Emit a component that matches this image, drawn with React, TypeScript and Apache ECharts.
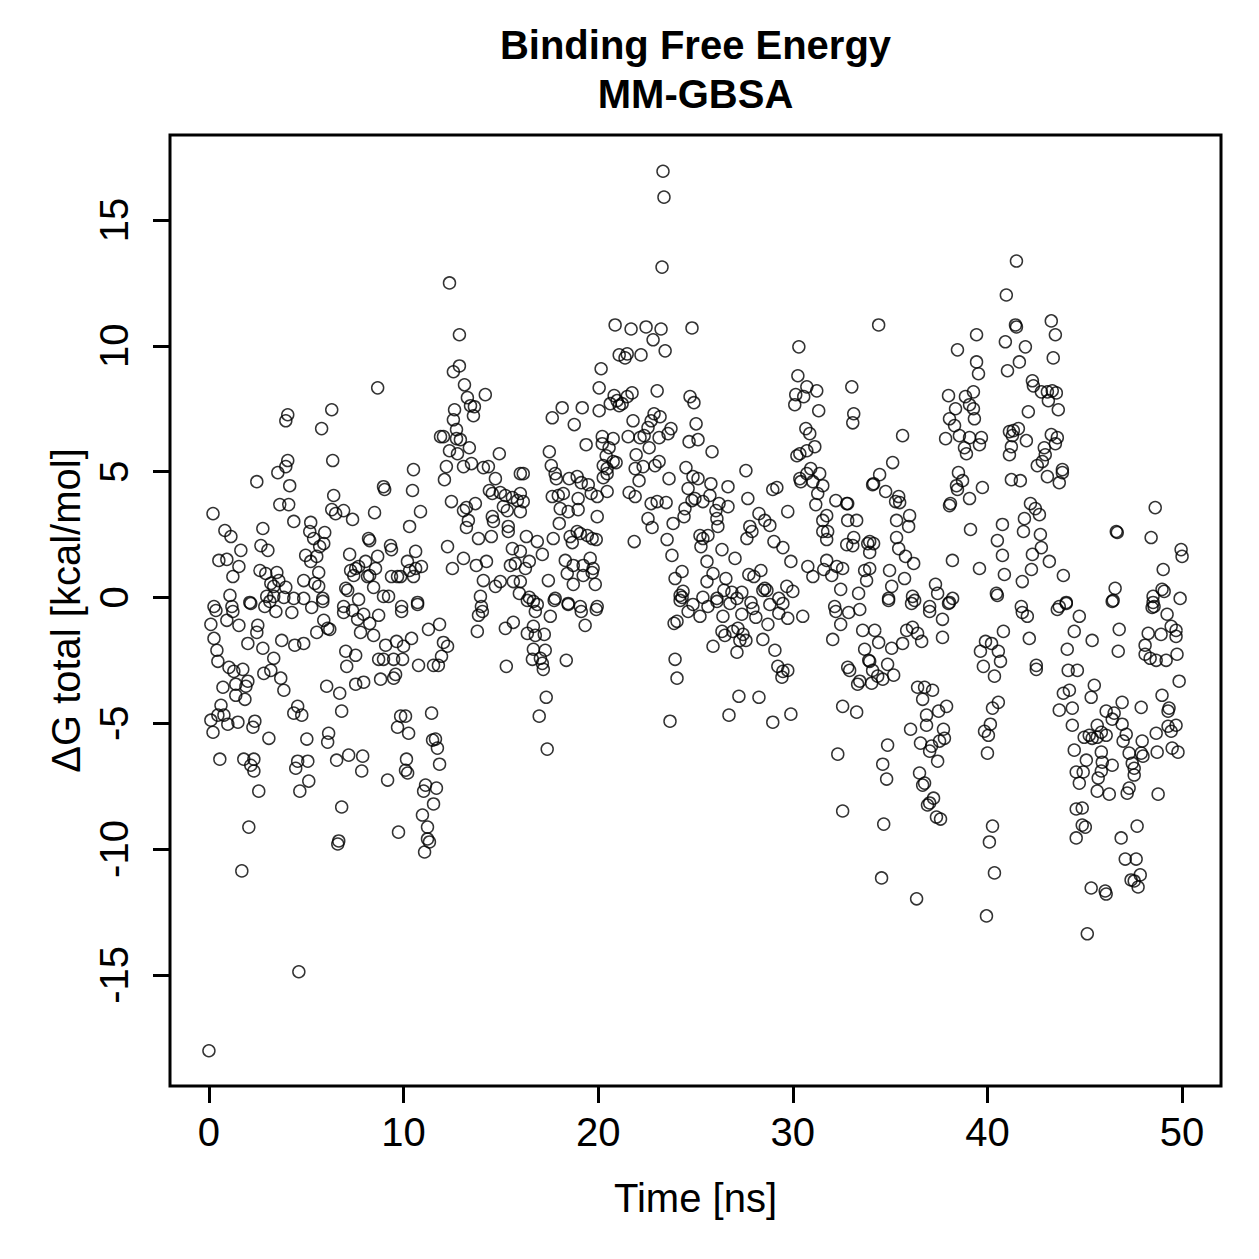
import React, { useEffect, useRef } from "react";
import * as echarts from "echarts";

const titleLines = ["Binding Free Energy", "MM-GBSA"];
const xAxisTitle = "Time [ns]";
const yAxisTitle = "ΔG total [kcal/mol]";
const xTicks = [0, 10, 20, 30, 40, 50];
const yTicks = [-15, -10, -5, 0, 5, 10, 15];

// [time (ns), ΔG total (kcal/mol)], grouped by decade of time
const seg00 = [
  [0.0, -18.02], [0.21, 3.33], [0.26, -0.36], [0.51, 1.47], [0.92, 1.51], [0.82, 2.66], [1.13, 2.42], [1.54, 1.23], [1.23, 0.83], [1.08, 0.08], [1.64, 1.87], [2.46, 4.6], [2.77, 2.74], [2.67, 2.06], [3.03, 1.87], [2.62, 1.07], [2.92, 0.95], [3.49, 0.99], [3.18, 0.56], [3.33, 0.44], [3.59, 0.67], [3.95, 0.4], [2.97, 0.04], [3.33, 0.04], [3.85, 0.0], [4.36, -0.04], [4.87, 0.67], [4.87, -0.04], [2.1, -0.2], [1.18, -0.36],
  [4.05, 7.26], [3.95, 7.02], [4.05, 5.44], [3.95, 5.2], [3.54, 4.96], [4.15, 4.44], [3.64, 3.69], [4.1, 3.69], [4.36, 3.02], [5.23, 2.98], [5.18, 2.62], [5.95, 2.58], [5.38, 2.34], [5.9, 2.14], [5.69, 2.02], [4.97, 1.67], [5.23, 1.43], [5.54, 1.63], [5.64, 0.99], [5.44, 0.56], [5.64, 0.44], [5.85, -0.04],
  [6.31, 7.46], [5.79, 6.71], [6.36, 5.44], [6.41, 4.05], [6.31, 3.49], [6.51, 3.33], [6.92, 3.45], [7.38, 3.1], [7.23, 1.71], [7.28, 1.07], [7.54, 1.15], [7.69, 1.23], [8.05, 1.43], [7.44, 0.87], [8.15, 0.83], [8.26, 0.87], [8.56, 1.15], [8.67, 1.63], [8.46, 0.4], [7.03, 0.36], [7.13, 0.28], [7.69, -0.08], [6.92, -0.36],
  [8.67, 8.33], [8.97, 4.4], [9.03, 4.29], [8.51, 3.37], [8.2, 2.34], [8.26, 2.26], [9.33, 2.06], [9.38, 1.9], [8.97, 0.04], [9.23, 0.04], [9.38, 0.83], [9.69, 0.83], [9.85, 0.83], [9.9, -0.36],
  [0.36, -0.52], [1.23, -0.56], [0.1, -1.07], [0.92, -0.91], [1.54, -1.11], [2.51, -1.11], [2.46, -1.39], [2.0, -1.83], [0.26, -1.63], [0.41, -2.1], [0.46, -2.54], [1.03, -2.78], [1.28, -2.94], [1.74, -2.86], [2.77, -2.02], [3.33, -2.42], [3.18, -2.9], [2.82, -3.02], [3.69, -3.21], [3.85, -3.69], [0.72, -3.57], [1.38, -3.45], [2.0, -3.33], [1.9, -3.53], [1.38, -3.89], [1.85, -4.05], [0.62, -4.29], [0.46, -4.68], [0.1, -4.88], [0.77, -4.68], [0.97, -5.04], [0.21, -5.36], [1.49, -4.96], [2.36, -4.92], [2.26, -5.16], [3.08, -5.6],
  [4.56, -4.33], [4.36, -4.6], [4.77, -4.68], [5.03, -5.63], [6.15, -5.4], [6.1, -5.75], [0.56, -6.43], [1.79, -6.43], [2.31, -6.43], [2.15, -6.67], [2.31, -6.9], [2.56, -7.7], [2.05, -9.13], [1.69, -10.87], [4.62, -14.88], [4.56, -6.51], [5.08, -6.51], [4.46, -6.79], [5.13, -7.3], [4.67, -7.7], [6.82, -8.33], [6.67, -9.68], [6.62, -9.8], [6.56, -6.47], [7.18, -6.27], [7.9, -6.31], [7.85, -6.9],
  [6.82, -4.52], [6.72, -3.81], [6.05, -3.53], [7.54, -3.45], [7.95, -3.37], [8.82, -3.25], [9.49, -3.21], [9.59, -3.06], [7.03, -2.14], [7.54, -2.3], [7.08, -2.74], [9.08, -1.9], [9.64, -1.75], [9.95, -2.46], [9.49, -2.46], [8.97, -2.46], [8.72, -2.46], [9.85, -4.72], [9.69, -5.16], [9.18, -7.26], [9.74, -9.33],
  [6.1, -1.23], [6.21, -1.27], [5.54, -1.39], [5.9, -0.91], [6.92, -0.6], [7.38, -0.52], [7.64, -0.87], [7.95, -0.67], [8.26, -1.03], [8.46, -1.51], [7.79, -1.39], [8.72, -0.71], [9.9, -0.56], [3.74, -1.71], [4.41, -1.9], [4.87, -1.83], [4.26, -0.6], [3.44, -0.56], [2.87, -0.36], [5.28, -0.4], [5.85, -0.16], [2.15, -0.24], [3.13, -0.16],
];

const seg10 = [
  [12.36, 12.5], [12.87, 10.44], [12.87, 9.2], [12.56, 8.97], [13.13, 8.45], [13.28, 7.94], [14.2, 8.06], [13.44, 7.62], [13.64, 7.58], [13.59, 7.22], [12.62, 7.46], [12.56, 7.06], [12.72, 6.67], [12.05, 6.39], [11.9, 6.39], [12.72, 6.31], [12.92, 6.27], [13.38, 5.95], [12.36, 5.83], [12.77, 5.71], [14.92, 5.71], [13.08, 5.2], [13.49, 5.32], [12.2, 5.2], [12.1, 4.68], [14.1, 5.16], [14.36, 5.2], [14.72, 4.72], [16.0, 4.92],
  [12.46, 3.81], [13.08, 3.45], [13.23, 3.57], [13.69, 3.73], [13.33, 3.06], [13.23, 2.78], [14.41, 4.25], [14.56, 4.13], [14.97, 4.17], [15.23, 4.05], [15.59, 3.97], [15.85, 3.85], [15.13, 3.61], [15.33, 3.45], [14.56, 3.21], [14.62, 3.02], [15.38, 2.82], [15.38, 2.62], [13.85, 2.34], [14.51, 2.42], [15.59, 1.94], [12.26, 2.02], [13.08, 1.55], [12.51, 1.15], [13.74, 1.27], [14.26, 1.43], [15.49, 1.27], [15.74, 1.35], [14.1, 0.67], [14.72, 0.44], [14.97, 0.63], [15.64, 0.63], [13.95, 0.04], [14.0, -0.36], [15.95, 0.16],
  [10.51, 5.08], [10.46, 4.25], [10.87, 3.41], [10.31, 2.82], [10.62, 1.83], [10.2, 1.43], [10.62, 1.15], [10.92, 1.23], [10.51, 0.83], [10.31, 1.07], [10.72, -0.2],
  [10.0, -1.94], [10.41, -1.63], [10.77, -2.7], [11.54, -2.7], [11.79, -2.7], [11.95, -2.34], [12.05, -1.79], [12.26, -1.94], [11.28, -1.27], [11.85, -1.07], [10.1, -4.72], [10.26, -5.4], [11.44, -4.6], [11.49, -5.67], [11.64, -5.63], [11.74, -5.99], [11.85, -6.63], [10.15, -6.43], [10.1, -6.87], [10.21, -6.98], [11.13, -7.46], [11.03, -7.7], [11.69, -7.58], [11.54, -8.21], [10.97, -8.65], [11.23, -9.13], [11.23, -9.6], [11.33, -9.72], [11.08, -10.12],
  [13.79, -1.35], [14.05, -0.56], [13.85, -0.71], [15.23, -1.23], [15.64, -0.99], [15.28, -2.74], [10.72, -0.28],
  [18.15, 7.54], [19.18, 7.54], [17.64, 7.14], [18.77, 6.87], [17.49, 5.79], [17.59, 5.24], [16.15, 4.92], [17.79, 4.92], [17.85, 4.72], [18.51, 4.72], [18.92, 4.8], [19.13, 4.56], [19.49, 4.48], [19.64, 4.13], [19.95, 4.01], [16.0, 4.13], [16.15, 3.81], [16.0, 3.41], [17.64, 4.01], [17.95, 4.05], [18.21, 4.13], [18.97, 3.93], [18.05, 3.53], [18.46, 3.41], [18.97, 3.49], [19.95, 3.21], [18.0, 2.94], [19.38, 6.07],
  [16.31, 2.42], [16.87, 2.22], [17.69, 2.34], [18.56, 2.42], [18.92, 2.62], [19.08, 2.54], [19.44, 2.46], [19.69, 2.34], [19.9, 2.3], [18.67, 2.18], [16.0, 1.83], [17.13, 1.71], [16.46, 1.43], [16.26, 1.15], [18.31, 1.47], [18.72, 1.27], [19.23, 1.27], [19.59, 1.55], [19.74, 1.15], [18.41, 0.95], [19.23, 0.87], [19.69, 0.99], [19.85, 0.52], [18.72, 0.52], [17.44, 0.67], [16.0, 0.63], [17.79, -0.04], [16.46, 0.0], [16.67, -0.16], [18.46, -0.24], [19.08, -0.36], [19.95, -0.36],
  [16.36, -0.12], [16.87, -0.28], [16.77, -0.56], [17.54, -0.75], [17.74, -0.12], [18.46, -0.28], [19.13, -0.56], [19.9, -0.48], [19.33, -1.11], [16.67, -1.15], [16.36, -1.43], [16.77, -1.51], [17.23, -1.47], [16.67, -2.06], [17.28, -2.1], [16.62, -2.46], [17.03, -2.42], [17.13, -2.62], [17.18, -2.86], [18.36, -2.5], [17.33, -3.97], [16.97, -4.72], [17.38, -6.03],
];

const seg20 = [
  [20.87, 10.83], [21.69, 10.67], [22.46, 10.75], [23.23, 10.67], [24.82, 10.71], [22.82, 10.24], [23.44, 9.8], [21.08, 9.64], [21.49, 9.68], [21.38, 9.52], [22.2, 9.64], [20.15, 9.09], [23.33, 16.94], [23.38, 15.91], [23.28, 13.13],
  [20.05, 8.33], [20.82, 8.02], [21.74, 8.13], [20.97, 7.82], [21.08, 7.62], [21.23, 7.7], [20.62, 7.7], [21.49, 7.98], [23.03, 8.21], [24.72, 7.98], [24.92, 7.74], [20.05, 7.42], [21.79, 7.02], [22.87, 7.3], [23.18, 7.18], [22.72, 7.02], [22.56, 6.75], [23.74, 6.71], [23.59, 6.51], [25.03, 6.9], [22.36, 6.43], [22.15, 6.35], [21.54, 6.39], [20.21, 6.39], [20.77, 6.31], [20.21, 6.11], [20.56, 5.95], [22.62, 5.95], [23.13, 6.35], [24.67, 6.19], [25.13, 6.27], [25.85, 5.79],
  [20.41, 5.63], [21.95, 5.67], [20.26, 5.24], [20.92, 5.36], [20.46, 5.12], [20.77, 5.4], [20.26, 4.76], [20.46, 4.92], [21.9, 5.12], [22.31, 5.2], [22.1, 4.64], [22.92, 5.24], [23.13, 5.4], [23.64, 4.72], [24.51, 5.16], [24.87, 4.8], [25.13, 4.72], [25.79, 4.52], [26.67, 4.4], [27.59, 5.04], [24.62, 4.33], [24.97, 3.93], [25.38, 3.81], [25.74, 4.05], [27.69, 3.93], [28.97, 4.29], [29.18, 4.37], [29.74, 3.41], [20.46, 4.21], [21.59, 4.17], [21.9, 4.01],
  [21.85, 2.22], [22.56, 3.13], [22.77, 2.78], [22.72, 3.73], [23.03, 3.81], [23.49, 3.77], [23.85, 2.94], [24.46, 3.53], [24.41, 3.21], [24.82, 3.85], [23.54, 2.3], [23.79, 1.67], [24.31, 1.03], [23.95, 0.75], [24.36, 0.24], [24.21, 0.08], [24.31, 0.0], [24.87, -0.28], [25.38, 0.0],
  [26.05, 3.45], [26.21, 3.73], [26.67, 3.61], [26.1, 3.13], [26.15, 2.82], [25.23, 2.46], [25.38, 2.34], [25.64, 2.46], [25.28, 2.02], [26.36, 1.9], [27.03, 1.55], [25.59, 1.43], [25.9, 0.95], [26.56, 0.75], [26.46, 0.28], [26.87, 0.2], [25.59, 0.63], [26.1, -0.04], [27.13, -0.04],
  [27.79, 2.82], [27.9, 2.62], [28.26, 3.33], [28.56, 3.06], [28.82, 2.86], [27.64, 2.34], [29.03, 2.22], [29.49, 1.98], [29.9, 1.43], [27.74, 0.91], [28.0, 0.83], [28.36, 1.07], [28.56, 0.36], [28.46, 0.28], [28.67, 0.28], [29.69, 0.44], [27.38, 0.2], [27.85, -0.2], [29.28, -0.04],
  [23.95, -2.46], [24.05, -3.21], [23.69, -4.92], [23.9, -1.03], [24.05, -0.95], [24.21, -0.12], [24.62, -0.56], [25.23, -0.75], [25.64, -0.36], [26.1, -0.16], [26.41, -0.75], [26.77, -0.24], [27.38, -0.67], [27.95, -0.44], [28.1, -0.79], [28.72, -1.07], [28.82, -0.28], [29.28, -0.63], [29.49, -0.24], [29.74, -0.83],
  [26.36, -1.35], [26.51, -1.51], [26.92, -1.35], [27.18, -1.23], [27.44, -1.47], [27.28, -1.71], [27.59, -1.71], [25.9, -1.94], [27.13, -2.18], [28.46, -1.67], [29.08, -2.1], [29.23, -2.74], [29.49, -2.94], [29.74, -2.9], [29.44, -3.17], [27.23, -3.93], [28.26, -3.97], [26.72, -4.68], [28.97, -4.96], [29.9, -4.64],
];

const seg30 = [
  [30.31, 9.96], [30.26, 8.81], [30.72, 8.37], [31.23, 8.21], [30.15, 8.06], [30.56, 7.98], [30.1, 7.66], [31.33, 7.42], [33.03, 8.37], [33.13, 7.3], [33.08, 6.94], [30.72, 4.92], [31.38, 4.92], [30.92, 5.12], [30.36, 4.72], [30.41, 4.6], [31.03, 4.6], [31.54, 4.44], [31.28, 4.13], [31.18, 3.69], [32.21, 3.85], [32.82, 3.73], [34.1, 4.48], [30.21, 5.63], [30.36, 5.71], [30.72, 5.83], [31.13, 5.99], [30.67, 6.71], [30.87, 6.51],
  [30.0, 0.24], [30.77, 1.23], [31.03, 0.83], [31.59, 1.11], [31.74, 1.47], [32.0, 0.87], [32.26, 1.23], [32.56, 1.15], [32.46, 0.32], [33.38, 0.16], [33.69, 1.07], [33.79, 0.67], [32.15, -0.36], [33.85, 2.14], [33.08, 2.06], [32.77, 2.1], [32.82, 3.06], [33.28, 3.06], [33.13, 2.38], [31.74, 3.25], [31.79, 2.62], [31.54, 3.06], [31.54, 2.62], [31.74, 2.3], [32.77, 3.73],
  [34.41, 10.83], [39.44, 10.44], [38.46, 9.84], [39.44, 9.36], [39.54, 8.89], [38.0, 8.02], [38.87, 7.98], [39.28, 8.17], [39.08, 7.66], [39.28, 7.5], [38.36, 7.5], [38.05, 7.1], [39.33, 7.1], [38.31, 6.83], [37.85, 6.31], [38.56, 6.43], [39.08, 6.35], [39.69, 6.35], [39.59, 6.07], [38.82, 5.95], [38.92, 5.71], [35.64, 6.43],
  [35.13, 5.36], [34.46, 4.88], [34.15, 4.52], [34.77, 4.21], [35.44, 4.01], [35.28, 3.81], [35.49, 3.77], [36.0, 3.25], [35.33, 3.06], [35.95, 2.82], [35.33, 2.38], [35.44, 1.94], [35.79, 1.63], [36.21, 1.35], [34.97, 1.07], [35.74, 0.75], [35.08, 0.44], [34.92, -0.04], [36.15, 0.04], [33.95, 2.22], [33.95, 1.79], [33.95, 1.15], [34.15, 2.14],
  [38.51, 4.96], [38.72, 4.64], [38.41, 4.44], [38.46, 4.29], [39.08, 3.93], [39.74, 4.37], [38.1, 3.73], [38.05, 3.65], [39.13, 2.7], [38.2, 1.47], [39.59, 1.15], [37.33, 0.52], [37.44, 0.16], [38.21, -0.04], [38.05, -0.2], [37.03, -0.36],
  [30.51, -0.75], [32.21, -0.56], [32.46, -1.07], [32.87, -0.6], [33.44, -0.48], [32.05, -1.67], [33.59, -1.31], [33.69, -2.06], [32.82, -2.78], [32.92, -2.9], [33.9, -2.5], [33.44, -3.33], [33.33, -3.45], [32.56, -4.33], [33.28, -4.56], [32.31, -6.23], [32.56, -8.49],
  [34.92, -0.12], [36.1, -0.24], [36.26, -0.12], [37.03, -0.56], [37.69, -0.87], [38.0, -0.24], [37.69, -1.59], [34.21, -1.31], [34.41, -1.79], [35.08, -2.02], [35.64, -1.83], [35.85, -1.31], [36.15, -1.19], [36.41, -1.43], [36.62, -1.75], [33.95, -2.54], [34.87, -2.66], [34.1, -2.9], [34.36, -3.13], [34.62, -3.25], [35.18, -3.09], [34.05, -3.41],
  [36.41, -3.57], [36.77, -3.57], [37.18, -3.69], [36.67, -4.05], [37.9, -4.33], [37.49, -4.52], [36.87, -4.68], [36.87, -5.08], [37.74, -5.24], [37.79, -5.6], [37.54, -5.71], [37.13, -5.91], [37.03, -6.11], [37.44, -6.51], [36.56, -5.79], [36.05, -5.24], [34.87, -5.87], [34.62, -6.63], [34.82, -7.22], [36.51, -6.98], [36.77, -7.38], [36.67, -7.46], [37.23, -7.98], [37.03, -8.17], [36.92, -8.25], [37.38, -8.73], [37.59, -8.81], [34.67, -9.01], [34.56, -11.15], [36.36, -11.98],
  [39.9, -1.75], [39.64, -2.14], [39.79, -2.74], [39.85, -5.32], [39.95, -12.66],
];

const seg40 = [
  [41.49, 13.37], [40.97, 12.02], [41.44, 10.83], [41.49, 10.75], [43.28, 10.99], [43.49, 10.44], [43.38, 9.52], [40.92, 10.16], [41.95, 9.96], [41.64, 9.36], [41.03, 9.01], [42.31, 8.61], [42.36, 8.41], [42.77, 8.17], [43.08, 8.17], [43.33, 8.21], [43.54, 8.13], [43.13, 7.82], [43.64, 7.46], [42.1, 7.38],
  [41.13, 6.59], [41.33, 6.63], [41.59, 6.71], [41.28, 6.43], [42.0, 6.23], [43.28, 6.47], [43.59, 6.35], [43.49, 6.11], [42.92, 5.95], [42.97, 5.67], [42.82, 5.4], [42.56, 5.24], [41.23, 5.99], [41.13, 5.67], [43.08, 4.8], [43.85, 5.08], [43.85, 4.96], [43.69, 4.56], [41.23, 4.68], [41.69, 4.64],
  [40.77, 2.9], [40.51, 2.26], [40.77, 1.67], [40.87, 0.91], [41.79, 0.63], [40.46, 0.16], [40.51, 0.08], [41.9, 3.13], [41.85, 2.62], [42.21, 3.73], [42.46, 3.53], [42.67, 3.29], [42.72, 2.5], [42.77, 1.98], [42.31, 1.71], [42.26, 1.11], [43.18, 1.43], [43.9, 0.87], [41.74, -0.36], [44.05, -0.2], [43.69, -0.36],
  [48.62, 3.57], [46.62, 2.62], [46.67, 2.58], [48.41, 2.38], [49.95, 1.9], [50.0, 1.63], [49.03, 1.11], [46.56, 0.36], [46.46, -0.12], [48.51, 0.04], [48.97, 0.32], [49.08, 0.24], [49.9, -0.04], [48.51, -0.2], [48.56, -0.36],
  [41.79, -0.6], [42.05, -0.75], [40.82, -1.35], [42.15, -1.63], [40.21, -1.83], [40.56, -2.14], [40.67, -2.54], [40.36, -3.13], [42.51, -2.7], [42.51, -2.86], [40.56, -4.17], [40.26, -4.4], [40.15, -5.04], [40.05, -5.48], [40.0, -6.19], [40.26, -9.09], [40.1, -9.72], [40.36, -10.95],
  [44.05, -0.24], [43.59, -0.48], [44.72, -0.75], [44.46, -1.35], [45.38, -1.71], [44.1, -2.06], [44.15, -2.9], [44.62, -2.9], [46.77, -1.27], [46.72, -2.14], [46.41, -0.16], [45.49, -3.49], [45.33, -3.97], [43.9, -3.81], [44.21, -3.69], [43.69, -4.48], [44.36, -4.4], [44.36, -5.08], [44.46, -6.07], [45.08, -6.47], [44.56, -6.94], [44.92, -6.94], [44.72, -7.38],
  [45.23, -5.48], [44.97, -5.56], [45.38, -5.6], [45.64, -5.08], [46.1, -4.52], [46.51, -4.6], [46.41, -4.84], [45.85, -5.36], [46.1, -5.48], [45.64, -5.56], [46.92, -4.17], [46.92, -5.04], [47.13, -5.44], [46.97, -5.71], [47.28, -6.19], [47.95, -5.71], [47.9, -6.19], [47.99, -6.31], [45.85, -6.15], [45.9, -6.55], [46.41, -6.67], [45.85, -6.9], [45.69, -7.18], [45.64, -7.7], [46.26, -7.82], [47.44, -6.59], [47.54, -6.79], [47.54, -7.06], [47.28, -7.58], [47.18, -7.78],
  [44.56, -8.41], [44.87, -8.37], [44.87, -9.05], [45.03, -9.13], [44.56, -9.56], [47.69, -9.09], [46.87, -9.56], [47.08, -10.4], [47.64, -10.4], [47.85, -11.03], [47.38, -11.23], [47.54, -11.27], [47.74, -11.51], [45.33, -11.55], [46.05, -11.67], [46.1, -11.79], [45.13, -13.37],
  [48.77, -7.82], [48.67, -5.4], [48.72, -6.15], [49.49, -5.99], [49.79, -6.15], [49.44, -5.32], [49.69, -5.08], [49.33, -4.4], [49.28, -5.12], [48.97, -3.89], [49.28, -4.52], [47.9, -4.37], [49.85, -3.33], [49.74, -2.26], [49.18, -2.5], [48.67, -2.5], [48.36, -2.42], [48.1, -2.26], [48.1, -1.9], [48.26, -1.43], [48.92, -1.47], [49.44, -1.15], [49.69, -1.31], [49.69, -1.55], [49.23, -0.67], [48.46, -0.4],
];

const FONT = "'Liberation Sans', Arial, Helvetica, sans-serif";

export default function App() {
  const ref = useRef<HTMLDivElement>(null);
  useEffect(() => {
    if (!ref.current) return;
    const chart = echarts.init(ref.current, null, { renderer: "svg" });
    chart.setOption({
      animation: false,
      backgroundColor: "#ffffff",
      grid: {
        left: 170,
        top: 135,
        width: 1051,
        height: 951,
        show: true,
        borderColor: "#000",
        borderWidth: 3,
        backgroundColor: "transparent",
      },
      xAxis: {
        type: "value",
        min: -2,
        max: 52,
        position: "bottom",
        name: xAxisTitle,
        nameLocation: "middle",
        nameGap: 92,
        nameTextStyle: { fontSize: 40, color: "#000", fontFamily: FONT },
        axisLine: { show: false, onZero: false },
        splitLine: { show: false },
        axisTick: {
          show: true,
          customValues: xTicks,
          length: 17,
          lineStyle: { color: "#000", width: 3 },
        },
        axisLabel: {
          customValues: xTicks,
          fontSize: 40,
          color: "#000",
          fontFamily: FONT,
          margin: 26,
        },
      },
      yAxis: {
        type: "value",
        min: -19.42,
        max: 18.38,
        position: "left",
        name: yAxisTitle,
        nameLocation: "middle",
        nameGap: 74,
        nameRotate: 90,
        nameTextStyle: { fontSize: 40, color: "#000", fontFamily: FONT },
        axisLine: { show: false, onZero: false },
        splitLine: { show: false },
        axisTick: {
          show: true,
          customValues: yTicks,
          length: 17,
          lineStyle: { color: "#000", width: 3 },
        },
        axisLabel: {
          customValues: yTicks,
          fontSize: 40,
          color: "#000",
          fontFamily: FONT,
          rotate: 90,
          margin: 36,
        },
      },
      graphic: [
        {
          type: "text",
          x: 695.5,
          y: 45,
          silent: true,
          style: {
            text: titleLines[0],
            fontSize: 40,
            fontWeight: "bold",
            fontFamily: FONT,
            fill: "#000",
            align: "center",
            verticalAlign: "middle",
          },
        },
        {
          type: "text",
          x: 695.5,
          y: 94,
          silent: true,
          style: {
            text: titleLines[1],
            fontSize: 40,
            fontWeight: "bold",
            fontFamily: FONT,
            fill: "#000",
            align: "center",
            verticalAlign: "middle",
          },
        },
      ],
      series: [
        {
          type: "scatter",
          data: [...seg00, ...seg10, ...seg20, ...seg30, ...seg40],
          symbol: "circle",
          symbolSize: 12,
          silent: true,
          itemStyle: {
            color: "rgba(0,0,0,0)",
            borderColor: "#000",
            borderWidth: 1.5,
          },
          emphasis: { disabled: true },
        },
      ],
    });
    return () => chart.dispose();
  }, []);
  return (
    <div
      ref={ref}
      style={{ position: "absolute", left: 0, top: 0, width: 1259, height: 1259, background: "#fff" }}
    />
  );
}
